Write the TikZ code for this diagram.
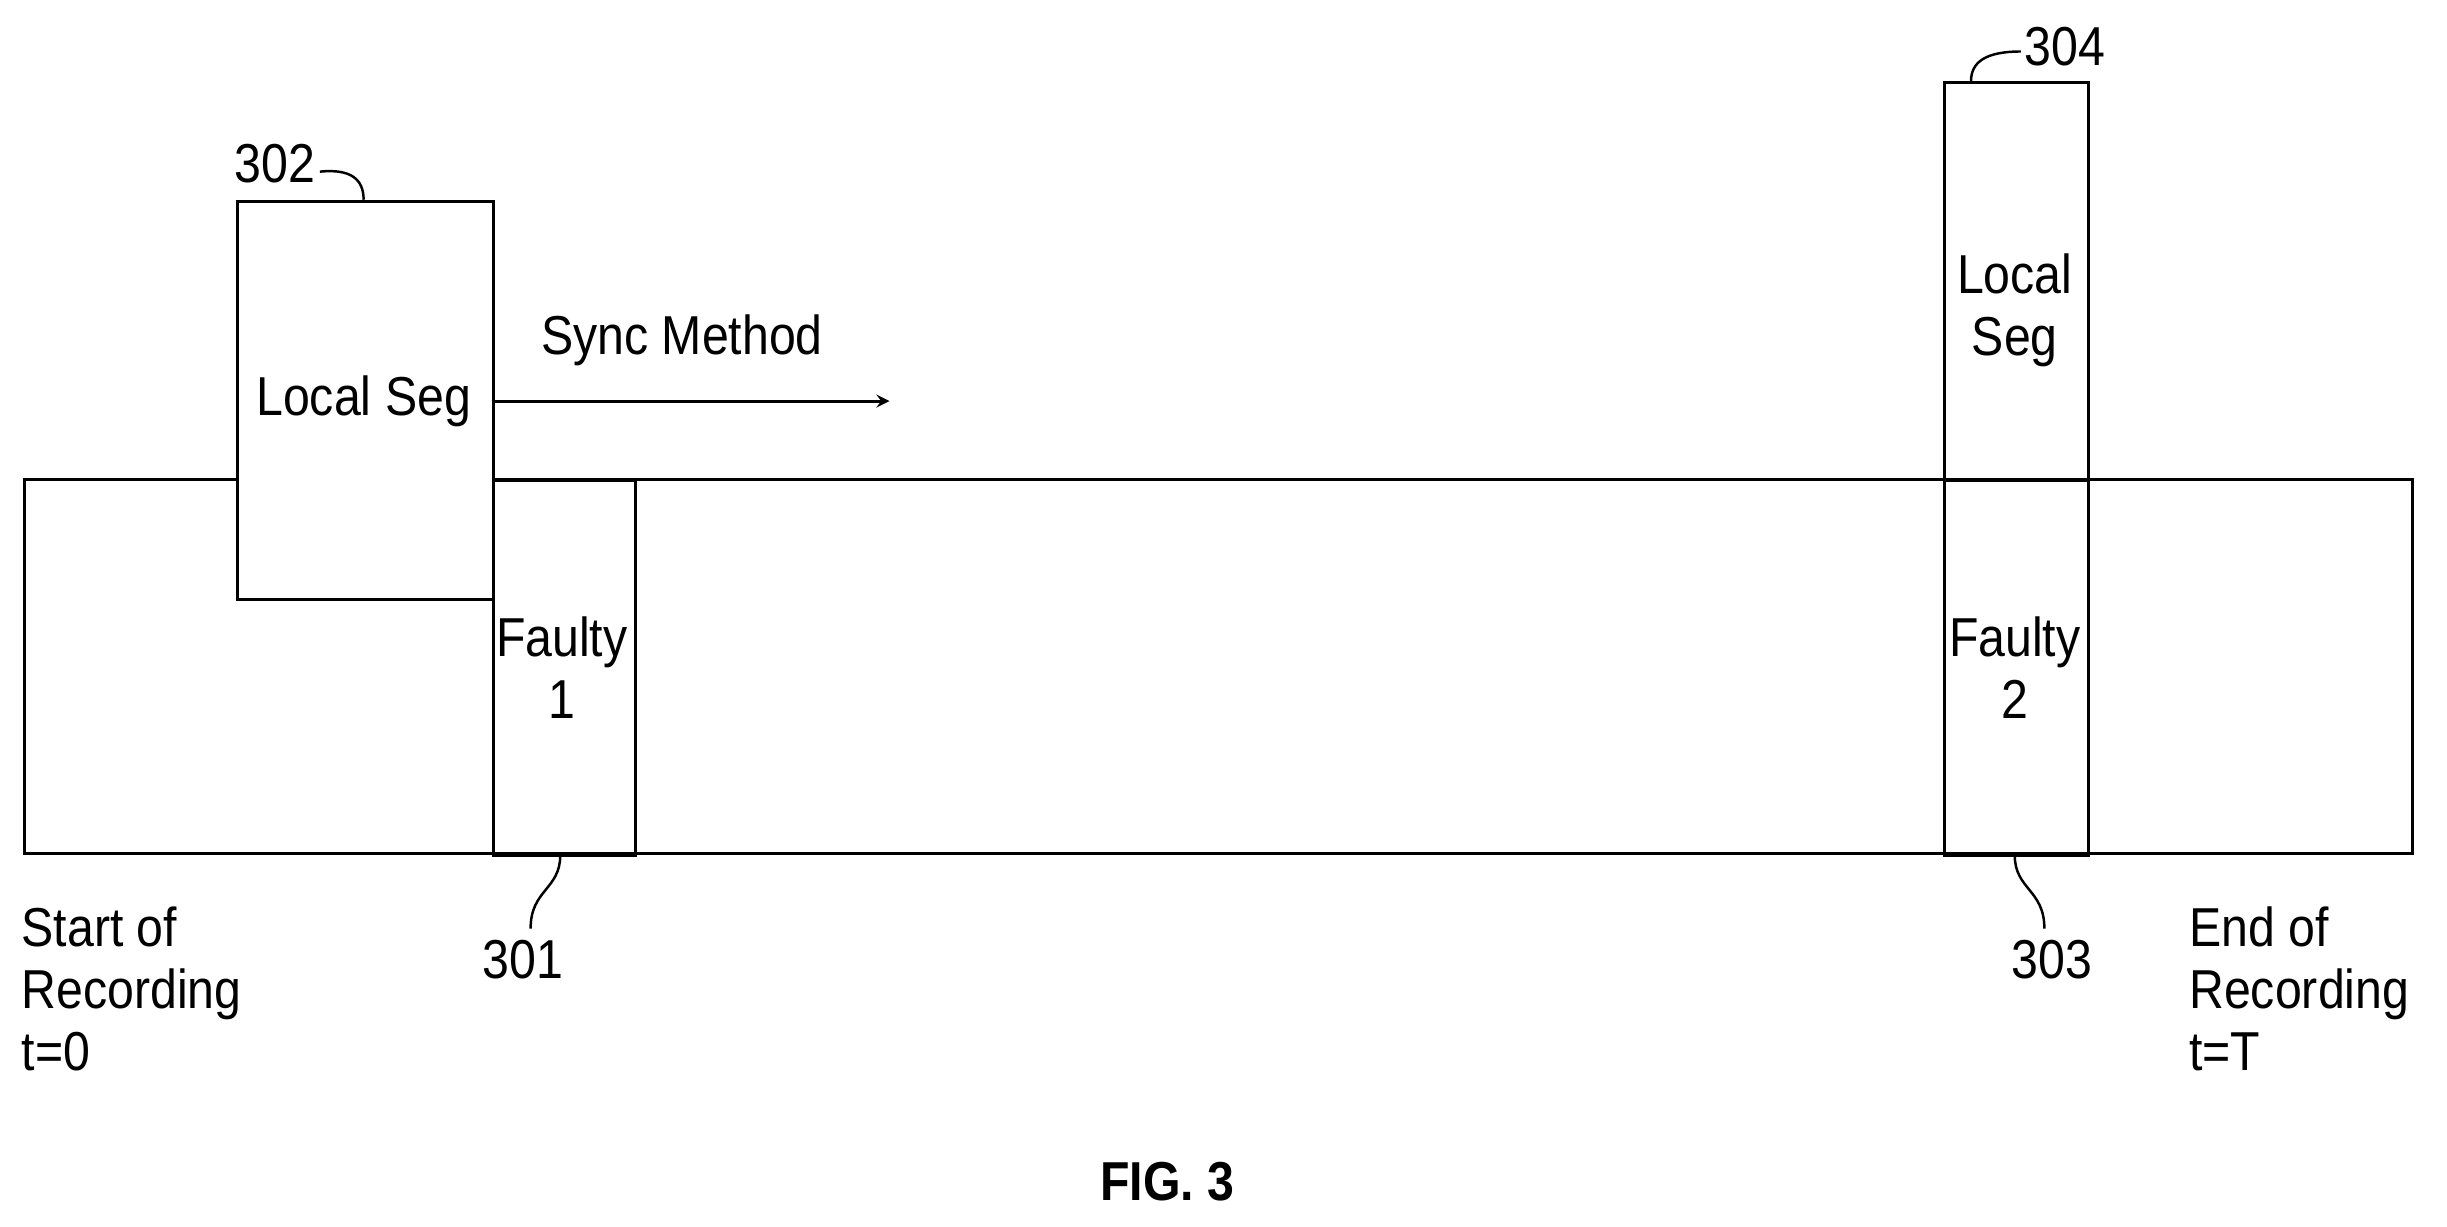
\documentclass[tikz,border=0pt]{standalone}
\usepackage{fontspec}
\setmainfont{Liberation Sans}
\begin{document}
\begin{tikzpicture}[x=0.02cm,y=-0.02cm,line width=1.1pt,
  lbl/.style={font=\fontsize{20}{22.7}\selectfont,xscale=0.88,inner sep=0pt,align=center},
  box/.style={draw,line width=1.1pt}]
\useasboundingbox (0,0) rectangle (1568,786);
\draw[box] (16,307) rectangle (1546,547);
\node[box,fill=white,minimum width=164*0.02cm,minimum height=255*0.02cm,anchor=north west,inner sep=0pt] (seg1) at (151,128) {};
\node[lbl] at (233,257) {Local Seg};
\node[box,minimum width=91*0.02cm,minimum height=240*0.02cm,anchor=north west,inner sep=0pt] (f1) at (315,307) {};
\node[lbl] at (360,428) {Faulty\\1};
\node[box,minimum width=92*0.02cm,minimum height=240*0.02cm,anchor=north west,inner sep=0pt] (f2) at (1245,307) {};
\node[lbl] at (1291,428) {Faulty\\2};
\node[box,minimum width=92*0.02cm,minimum height=255*0.02cm,anchor=north west,inner sep=0pt] (seg2) at (1245,52) {};
\node[lbl] at (1291,199) {Local\\Seg};
\coordinate (aend) at (570,257);
\draw[-stealth,line width=1.1pt] (315,257) -- (aend);
\node[lbl] (sm) at (437,218) {Sync Method};
\node[lbl] (l302) at (176,105) {302};
\draw[line width=0.9pt] (205,110) .. controls (225,108) and (233,115) .. (233,128);
\node[lbl] (l304) at (1323,30) {304};
\draw[line width=0.9pt] (1263,52) .. controls (1263,40) and (1272,33) .. (1295,33);
\node[lbl] (l301) at (335,615) {301};
\draw[line width=0.9pt] (359,548) .. controls (359,570) and (340,570) .. (340,595);
\node[lbl] (l303) at (1315,615) {303};
\draw[line width=0.9pt] (1291,548) .. controls (1291,570) and (1310,570) .. (1310,595);
\node[lbl,align=left,anchor=north west] (st) at (13,580) {Start of\\Recording\\t=0};
\node[lbl,align=left,anchor=north west] (en) at (1402,580) {End of\\Recording\\t=T};
\node[lbl,font=\fontsize{20}{22.7}\selectfont\bfseries] (fig) at (748,757) {FIG. 3};
\end{tikzpicture}
\end{document}
